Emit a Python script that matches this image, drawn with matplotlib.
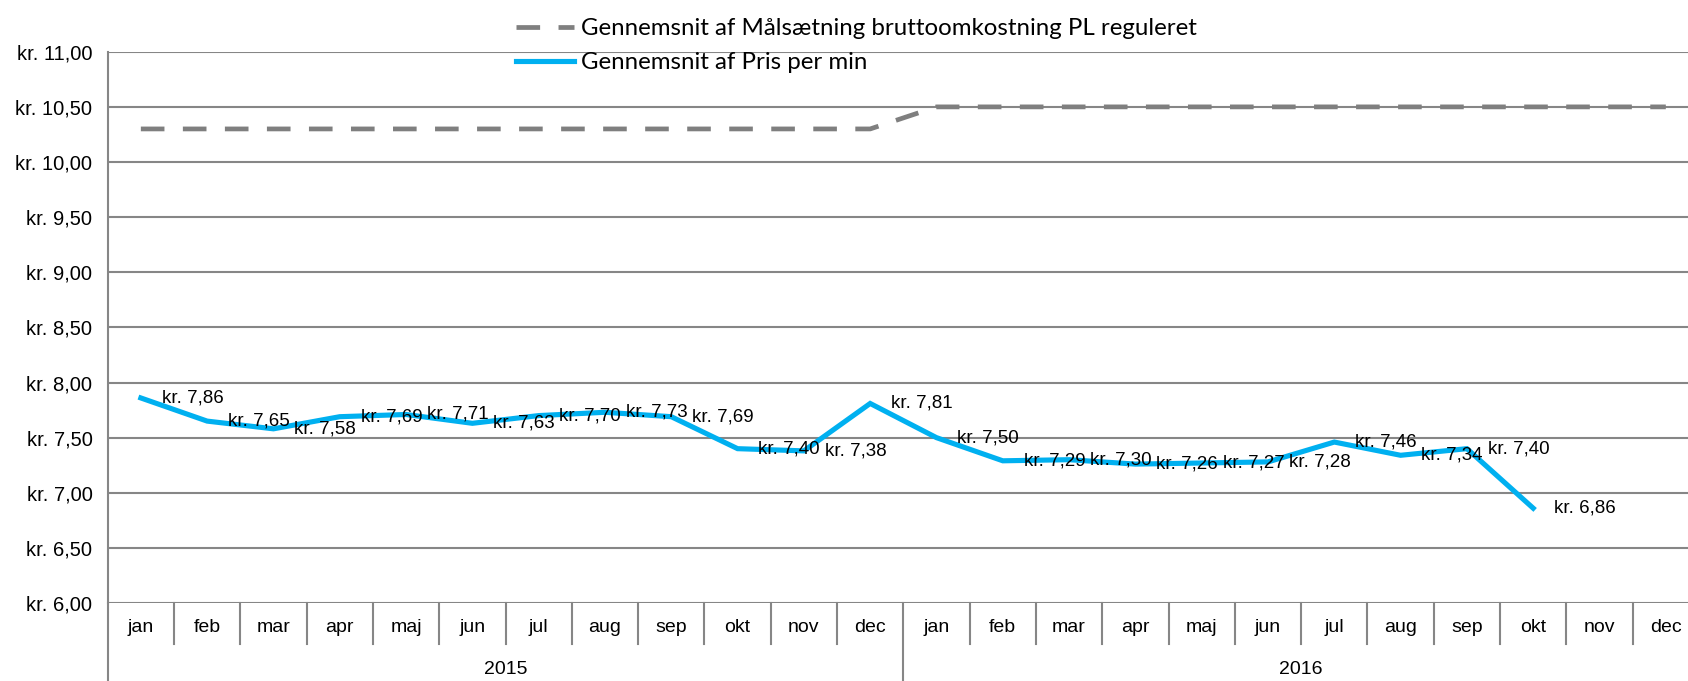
import matplotlib
matplotlib.use("Agg")
import matplotlib.pyplot as plt
from matplotlib.lines import Line2D
import matplotlib.transforms as mtransforms

# Data
months = ["jan", "feb", "mar", "apr", "maj", "jun", "jul", "aug", "sep", "okt", "nov", "dec"]
years = ["2015", "2016"]
maal = [10.30] * 12 + [10.50] * 12
pris = [7.86, 7.65, 7.58, 7.69, 7.71, 7.63, 7.70, 7.73, 7.69, 7.40, 7.38, 7.81,
        7.50, 7.29, 7.30, 7.26, 7.27, 7.28, 7.46, 7.34, 7.40, 6.86]
yticks = [6.0, 6.5, 7.0, 7.5, 8.0, 8.5, 9.0, 9.5, 10.0, 10.5, 11.0]

label_maal = "Gennemsnit af Målsætning bruttoomkostning PL reguleret"
label_pris = "Gennemsnit af Pris per min"

sans = ["Liberation Sans", "DejaVu Sans"]
grid_c = "#868686"
blue = "#00B0F0"
gray = "#7F7F7F"


def kr(v):
    return "kr. " + f"{v:.2f}".replace(".", ",")


fig = plt.figure(figsize=(16.88, 6.81), dpi=100)
ax = fig.add_axes([0.0638, 0.1145, 0.9427, 0.8095])

x_all = list(range(24))
ax.plot(x_all, maal, color=gray, lw=3.4, dashes=(5.0, 3.9), solid_capstyle="butt",
        dash_capstyle="butt")
ax.plot(x_all[:len(pris)], pris, color=blue, lw=3.7, solid_joinstyle="miter")

for i, v in enumerate(pris):
    ax.annotate(kr(v), (i, v), xytext=(15, 0), textcoords="offset points",
                ha="left", va="center", fontsize=13.5, family=sans, color="black")

ax.set_xlim(-0.5, 23.5)
ax.set_ylim(6.0, 11.0)
ax.set_yticks(yticks)
ax.set_yticklabels([kr(t) for t in yticks], family=sans, fontsize=14.5)
ax.tick_params(axis="y", length=0, pad=11)
ax.set_xticks([])
ax.grid(axis="y", color=grid_c, lw=1.5)
ax.set_axisbelow(True)
for s in ["top", "right", "bottom"]:
    ax.spines[s].set_visible(False)
ax.spines["left"].set_color(grid_c)
ax.spines["left"].set_linewidth(1.5)

# category axis (months + years)
trans = mtransforms.blended_transform_factory(ax.transData, ax.transAxes)
for i in range(24):
    ax.text(i, -0.044, months[i % 12], transform=trans, ha="center", va="center",
            fontsize=14, family=sans)
    if i % 12 != 0:
        ax.plot([i - 0.5, i - 0.5], [0, -0.074], transform=trans, color=grid_c,
                lw=1.5, clip_on=False)
for k, yr in enumerate(years):
    ax.text(k * 12 + 5.5, -0.12, yr, transform=trans, ha="center", va="center",
            fontsize=14, family=sans)
    ax.plot([k * 12 - 0.5, k * 12 - 0.5], [0, -0.2], transform=trans, color=grid_c,
            lw=1.5, clip_on=False)

handles = [
    Line2D([], [], color=gray, lw=3.4, dashes=(5.0, 3.9), dash_capstyle="butt"),
    Line2D([], [], color=blue, lw=3.7),
]
fig.legend(handles, [label_maal, label_pris], loc="upper left",
           bbox_to_anchor=(0.293, 1.005), frameon=False, handlelength=2.4,
           handletextpad=0.3, labelspacing=0.55, prop={"family": "Lato", "size": 17.3})

fig.savefig("out.png", dpi=100)
